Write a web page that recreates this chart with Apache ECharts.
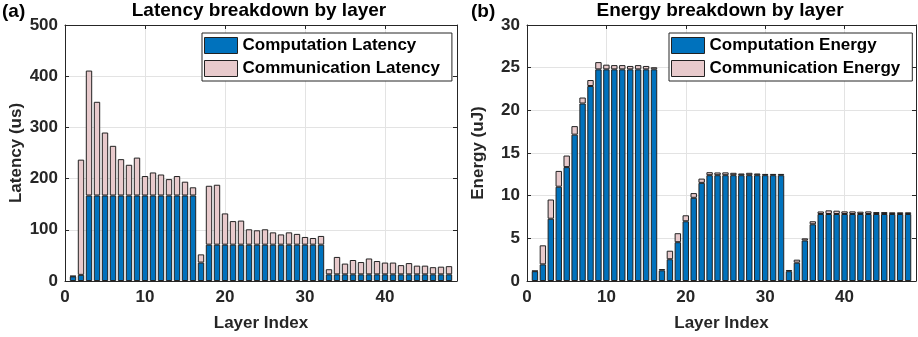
<!DOCTYPE html>
<html>
<head>
<meta charset="utf-8">
<script src="https://cdn.jsdelivr.net/npm/echarts@6/dist/echarts.min.js"></script>
<style>
  html, body { margin: 0; padding: 0; background: #fff; }
  #chart { width: 918px; height: 337px; }
</style>
</head>
<body>
<div id="chart"></div>
<script>
// layer indices
const layers = [1, 2, 3, 4, 5, 6, 7, 8, 9, 10, 11, 12, 13, 14, 15, 16,
  17, 18, 19, 20, 21, 22, 23, 24, 25, 26, 27, 28, 29, 30, 31, 32,
  33, 34, 35, 36, 37, 38, 39, 40, 41, 42, 43, 44, 45, 46, 47, 48];

// latency (us)
const compLatency = [9, 12, 167, 167, 167, 167, 167, 167, 167, 167, 167, 167, 167, 167, 167, 167,
  36, 71, 71, 71, 71, 71, 71, 71, 71, 71, 71, 71, 71, 71, 71, 71,
  13, 13, 13, 13, 13, 13, 13, 13, 13, 13, 13, 13, 13, 13, 13, 13];
const commLatency = [1, 225, 244, 183, 123, 97, 71, 60, 74, 38, 45, 41, 32, 38, 27, 16,
  16, 115, 117, 61, 46, 47, 30, 28, 30, 24, 20, 24, 21, 15, 13, 17,
  10, 34, 21, 28, 24, 31, 26, 23, 23, 18, 22, 17, 17, 14, 15, 16];

// energy (uJ)
const compEnergy = [1.15, 1.95, 7.3, 11.05, 13.35, 17.15, 20.8, 22.85, 24.8, 24.8, 24.8, 24.8, 24.8, 24.8, 24.8, 24.8,
  1.25, 2.55, 4.55, 7.0, 9.75, 11.5, 12.4, 12.4, 12.4, 12.4, 12.4, 12.4, 12.4, 12.4, 12.4, 12.4,
  1.15, 2.15, 4.75, 6.65, 7.85, 7.85, 7.85, 7.85, 7.85, 7.85, 7.85, 7.85, 7.85, 7.85, 7.85, 7.85];
const commEnergy = [0.05, 2.23, 2.25, 1.85, 1.35, 1.0, 0.7, 0.7, 0.85, 0.55, 0.5, 0.5, 0.4, 0.5, 0.4, 0.25,
  0.15, 1.0, 1.05, 0.7, 0.55, 0.5, 0.35, 0.32, 0.33, 0.28, 0.2, 0.28, 0.2, 0.15, 0.15, 0.15,
  0.14, 0.35, 0.25, 0.35, 0.3, 0.43, 0.39, 0.31, 0.31, 0.27, 0.31, 0.23, 0.23, 0.2, 0.2, 0.2];

const xTicks = { min: 0, max: 49, interval: 10 };
const latencyTicks = { min: 0, max: 500, interval: 100 };
const energyTicks = { min: 0, max: 30, interval: 5 };

const FONT = 'Liberation Sans, Arial, Helvetica, sans-serif';
const BLUE = '#0072BD';
const PINK = '#E8CACC';
const EDGE = '#222';
const AXIS = '#262626';

const chart = echarts.init(document.getElementById('chart'));

// 隐藏的类目轴：0 和 49 为空位，使第 k 层正好落在 x = k
const xCats = [xTicks.min, ...layers, xTicks.max].map(String);
const padded = (ys) => [null, ...ys, null];

// 主坐标轴（带刻度标签）
const bottomAxis = (gi) => ({
  type: 'value', gridIndex: gi, position: 'bottom',
  min: xTicks.min, max: xTicks.max, interval: xTicks.interval,
  name: 'Layer Index', nameLocation: 'middle', nameGap: 34,
  nameTextStyle: { fontFamily: FONT, fontSize: 17, fontWeight: 'bold', color: AXIS },
  axisLine: { show: true, onZero: false, lineStyle: { color: AXIS, width: 1 } },
  axisTick: { show: true, inside: true, length: 4, lineStyle: { color: AXIS } },
  axisLabel: { fontFamily: FONT, fontSize: 17, fontWeight: 'bold', color: AXIS, margin: 8, showMaxLabel: false },
  splitLine: { show: true, lineStyle: { color: '#e3e3e3', width: 1 } },
});
// 上/右边框刻度
const topAxis = (gi) => ({
  type: 'value', gridIndex: gi, position: 'top',
  min: xTicks.min, max: xTicks.max, interval: xTicks.interval,
  axisLine: { show: true, onZero: false, lineStyle: { color: AXIS, width: 1 } },
  axisTick: { show: true, inside: true, length: 4, lineStyle: { color: AXIS } },
  axisLabel: { show: false }, splitLine: { show: false },
});
const catAxis = (gi) => ({
  type: 'category', gridIndex: gi, position: 'bottom',
  data: xCats, boundaryGap: false, show: false,
});
const leftAxis = (gi, t, name) => ({
  type: 'value', gridIndex: gi, position: 'left',
  min: t.min, max: t.max, interval: t.interval,
  name: name, nameLocation: 'middle', nameGap: 40,
  nameTextStyle: { fontFamily: FONT, fontSize: 17, fontWeight: 'bold', color: AXIS },
  axisLine: { show: true, onZero: false, lineStyle: { color: AXIS, width: 1 } },
  axisTick: { show: true, inside: true, length: 4, lineStyle: { color: AXIS } },
  axisLabel: { fontFamily: FONT, fontSize: 17, fontWeight: 'bold', color: AXIS, margin: 7 },
  splitLine: { show: true, lineStyle: { color: '#e3e3e3', width: 1 } },
});
const rightAxis = (gi, t) => ({
  type: 'value', gridIndex: gi, position: 'right',
  min: t.min, max: t.max, interval: t.interval,
  axisLine: { show: true, onZero: false, lineStyle: { color: AXIS, width: 1 } },
  axisTick: { show: true, inside: true, length: 4, lineStyle: { color: AXIS } },
  axisLabel: { show: false }, splitLine: { show: false },
});

const barSeries = (name, data, gi, color) => ({
  name: name, type: 'bar', stack: 'g' + gi,
  xAxisIndex: gi * 3 + 2, yAxisIndex: gi * 2,
  data: padded(data), barWidth: 6.4,
  itemStyle: { color: color, borderColor: EDGE, borderWidth: 1 },
  emphasis: { disabled: true },
});

const legendBox = (left, names) => ({
  left: left, top: 33, orient: 'vertical',
  data: names,
  backgroundColor: '#fff', borderColor: AXIS, borderWidth: 1,
  padding: [4, 12, 4, 2],
  itemWidth: 33, itemHeight: 16, itemGap: 6, itemTextGap: 3,
  icon: 'rect',
  itemStyle: { borderColor: EDGE, borderWidth: 1 },
  textStyle: { fontFamily: FONT, fontSize: 17, fontWeight: 'bold', color: '#000' },
  selectedMode: false,
});

const textEl = (x, y, text, align) => ({
  type: 'text', x: x, y: y,
  style: { text: text, fontFamily: FONT, fontSize: 19, fontWeight: 'bold', fill: '#000', align: align, verticalAlign: 'middle' },
});

chart.setOption({
  animation: false,
  grid: [
    { left: 65, top: 25, width: 392, height: 256 },
    { left: 527, top: 25, width: 389, height: 256 },
  ],
  xAxis: [bottomAxis(0), topAxis(0), catAxis(0), bottomAxis(1), topAxis(1), catAxis(1)],
  yAxis: [
    leftAxis(0, latencyTicks, 'Latency (us)'), rightAxis(0, latencyTicks),
    leftAxis(1, energyTicks, 'Energy (uJ)'), rightAxis(1, energyTicks),
  ],
  legend: [
    legendBox(202, ['Computation Latency', 'Communication Latency']),
    legendBox(669, ['Computation Energy', 'Communication Energy']),
  ],
  graphic: [
    textEl(259, 11, 'Latency breakdown by layer', 'center'),
    textEl(720, 11, 'Energy breakdown by layer', 'center'),
    textEl(2, 12, '(a)', 'left'),
    textEl(471, 12, '(b)', 'left'),
  ],
  series: [
    barSeries('Computation Latency', compLatency, 0, BLUE),
    barSeries('Communication Latency', commLatency, 0, PINK),
    barSeries('Computation Energy', compEnergy, 1, BLUE),
    barSeries('Communication Energy', commEnergy, 1, PINK),
  ],
});
</script>
</body>
</html>
